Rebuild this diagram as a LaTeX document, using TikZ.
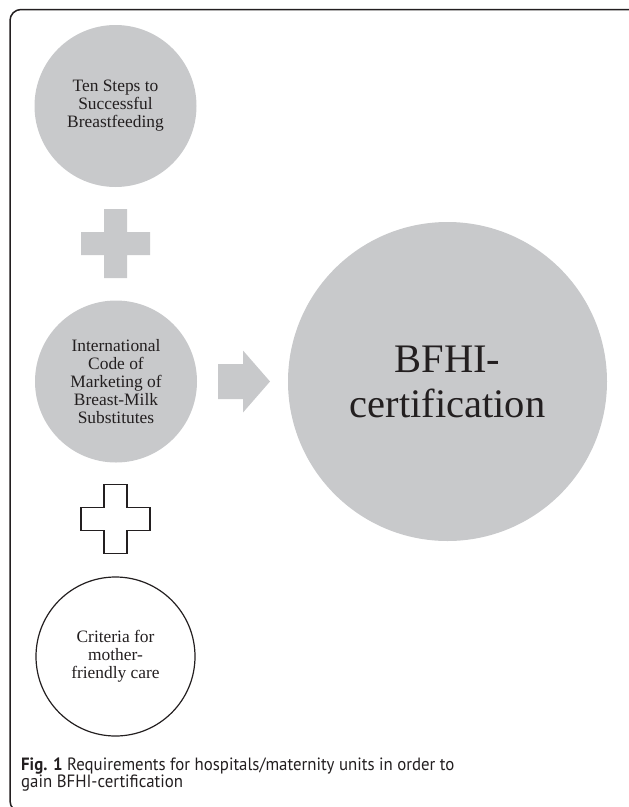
\documentclass[tikz,border=0pt]{standalone}
\usepackage{fontspec}
\usetikzlibrary{calc}
\setmainfont{Liberation Serif}
\newfontfamily\capfont[FakeStretch=0.945]{PT Sans}
\definecolor{discgray}{RGB}{200,201,203}
\definecolor{inkdark}{RGB}{35,31,32}
\begin{document}
\begin{tikzpicture}[x=1pt,y=-1pt,
  disc/.style={circle,fill=discgray,inner sep=0pt,align=center,text=inkdark,
    font=\fontsize{17.4}{17.9}\selectfont},
  ring/.style={circle,draw=inkdark,line width=1.2pt,inner sep=0pt,align=center,text=inkdark,
    font=\fontsize{17.4}{17.9}\selectfont},
  plusfill/.style={fill=discgray},
  plusline/.style={draw=inkdark,line width=1.2pt,fill=white},
  bigarrow/.style={fill=discgray}]
\useasboundingbox (0,0) rectangle (629,807);
% outer frame (right and bottom edges lie beyond the page)
\draw[inkdark,line width=1.5pt,rounded corners=11pt] (10,9.5) rectangle (640,812);

% requirement discs
\node[disc,minimum size=162pt] (steps) at (115.5,106) {Ten Steps to\\Successful\\Breastfeeding};
\node[disc,minimum size=162pt] (code) at (116,381.5) {International\\Code of\\Marketing of\\Breast-Milk\\Substitutes};
\node[ring,minimum size=159pt] (care) at (115.5,656.5) {Criteria for\\mother-\\friendly care};
\node[disc,minimum size=319pt,font=\fontsize{40.5}{45}\selectfont] (bfhi) at (447.5,381.5) {BFHI-\\certification};

% plus signs between the discs
\coordinate (p1) at (115.5,243.5);
\coordinate (p2) at (115.5,519);
\fill[plusfill] ($(p1)+(-11.5,-34.5)$) -- ++(23,0) -- ++(0,23) -- ++(23,0) -- ++(0,23) -- ++(-23,0)
  -- ++(0,23) -- ++(-23,0) -- ++(0,-23) -- ++(-23,0) -- ++(0,-23) -- ++(23,0) -- cycle;
\path[plusline] ($(p2)+(-11.5,-34.5)$) -- ++(23,0) -- ++(0,23) -- ++(23,0) -- ++(0,23) -- ++(-23,0)
  -- ++(0,23) -- ++(-23,0) -- ++(0,-23) -- ++(-23,0) -- ++(0,-23) -- ++(23,0) -- cycle;

% block arrow towards the certification disc
\coordinate (a0) at (218,381.5);
\fill[bigarrow] ($(a0)+(0,-17.5)$) -- ++(25,0) -- ++(0,-13.5) -- ($(a0)+(52,0)$) -- ($(a0)+(25,31)$)
  -- ++(0,-13.5) -- ++(-25,0) -- cycle;

% caption (anchored at the baseline of its last line)
\node[anchor=base west,inner sep=0pt,align=left,text=inkdark,
  font=\capfont\fontsize{17.8}{17.5}\selectfont] (caption) at (21,787.5)
  {\textbf{Fig. 1} Requirements for hospitals/maternity units in order to\\gain BFHI-certification};
\end{tikzpicture}
\end{document}
